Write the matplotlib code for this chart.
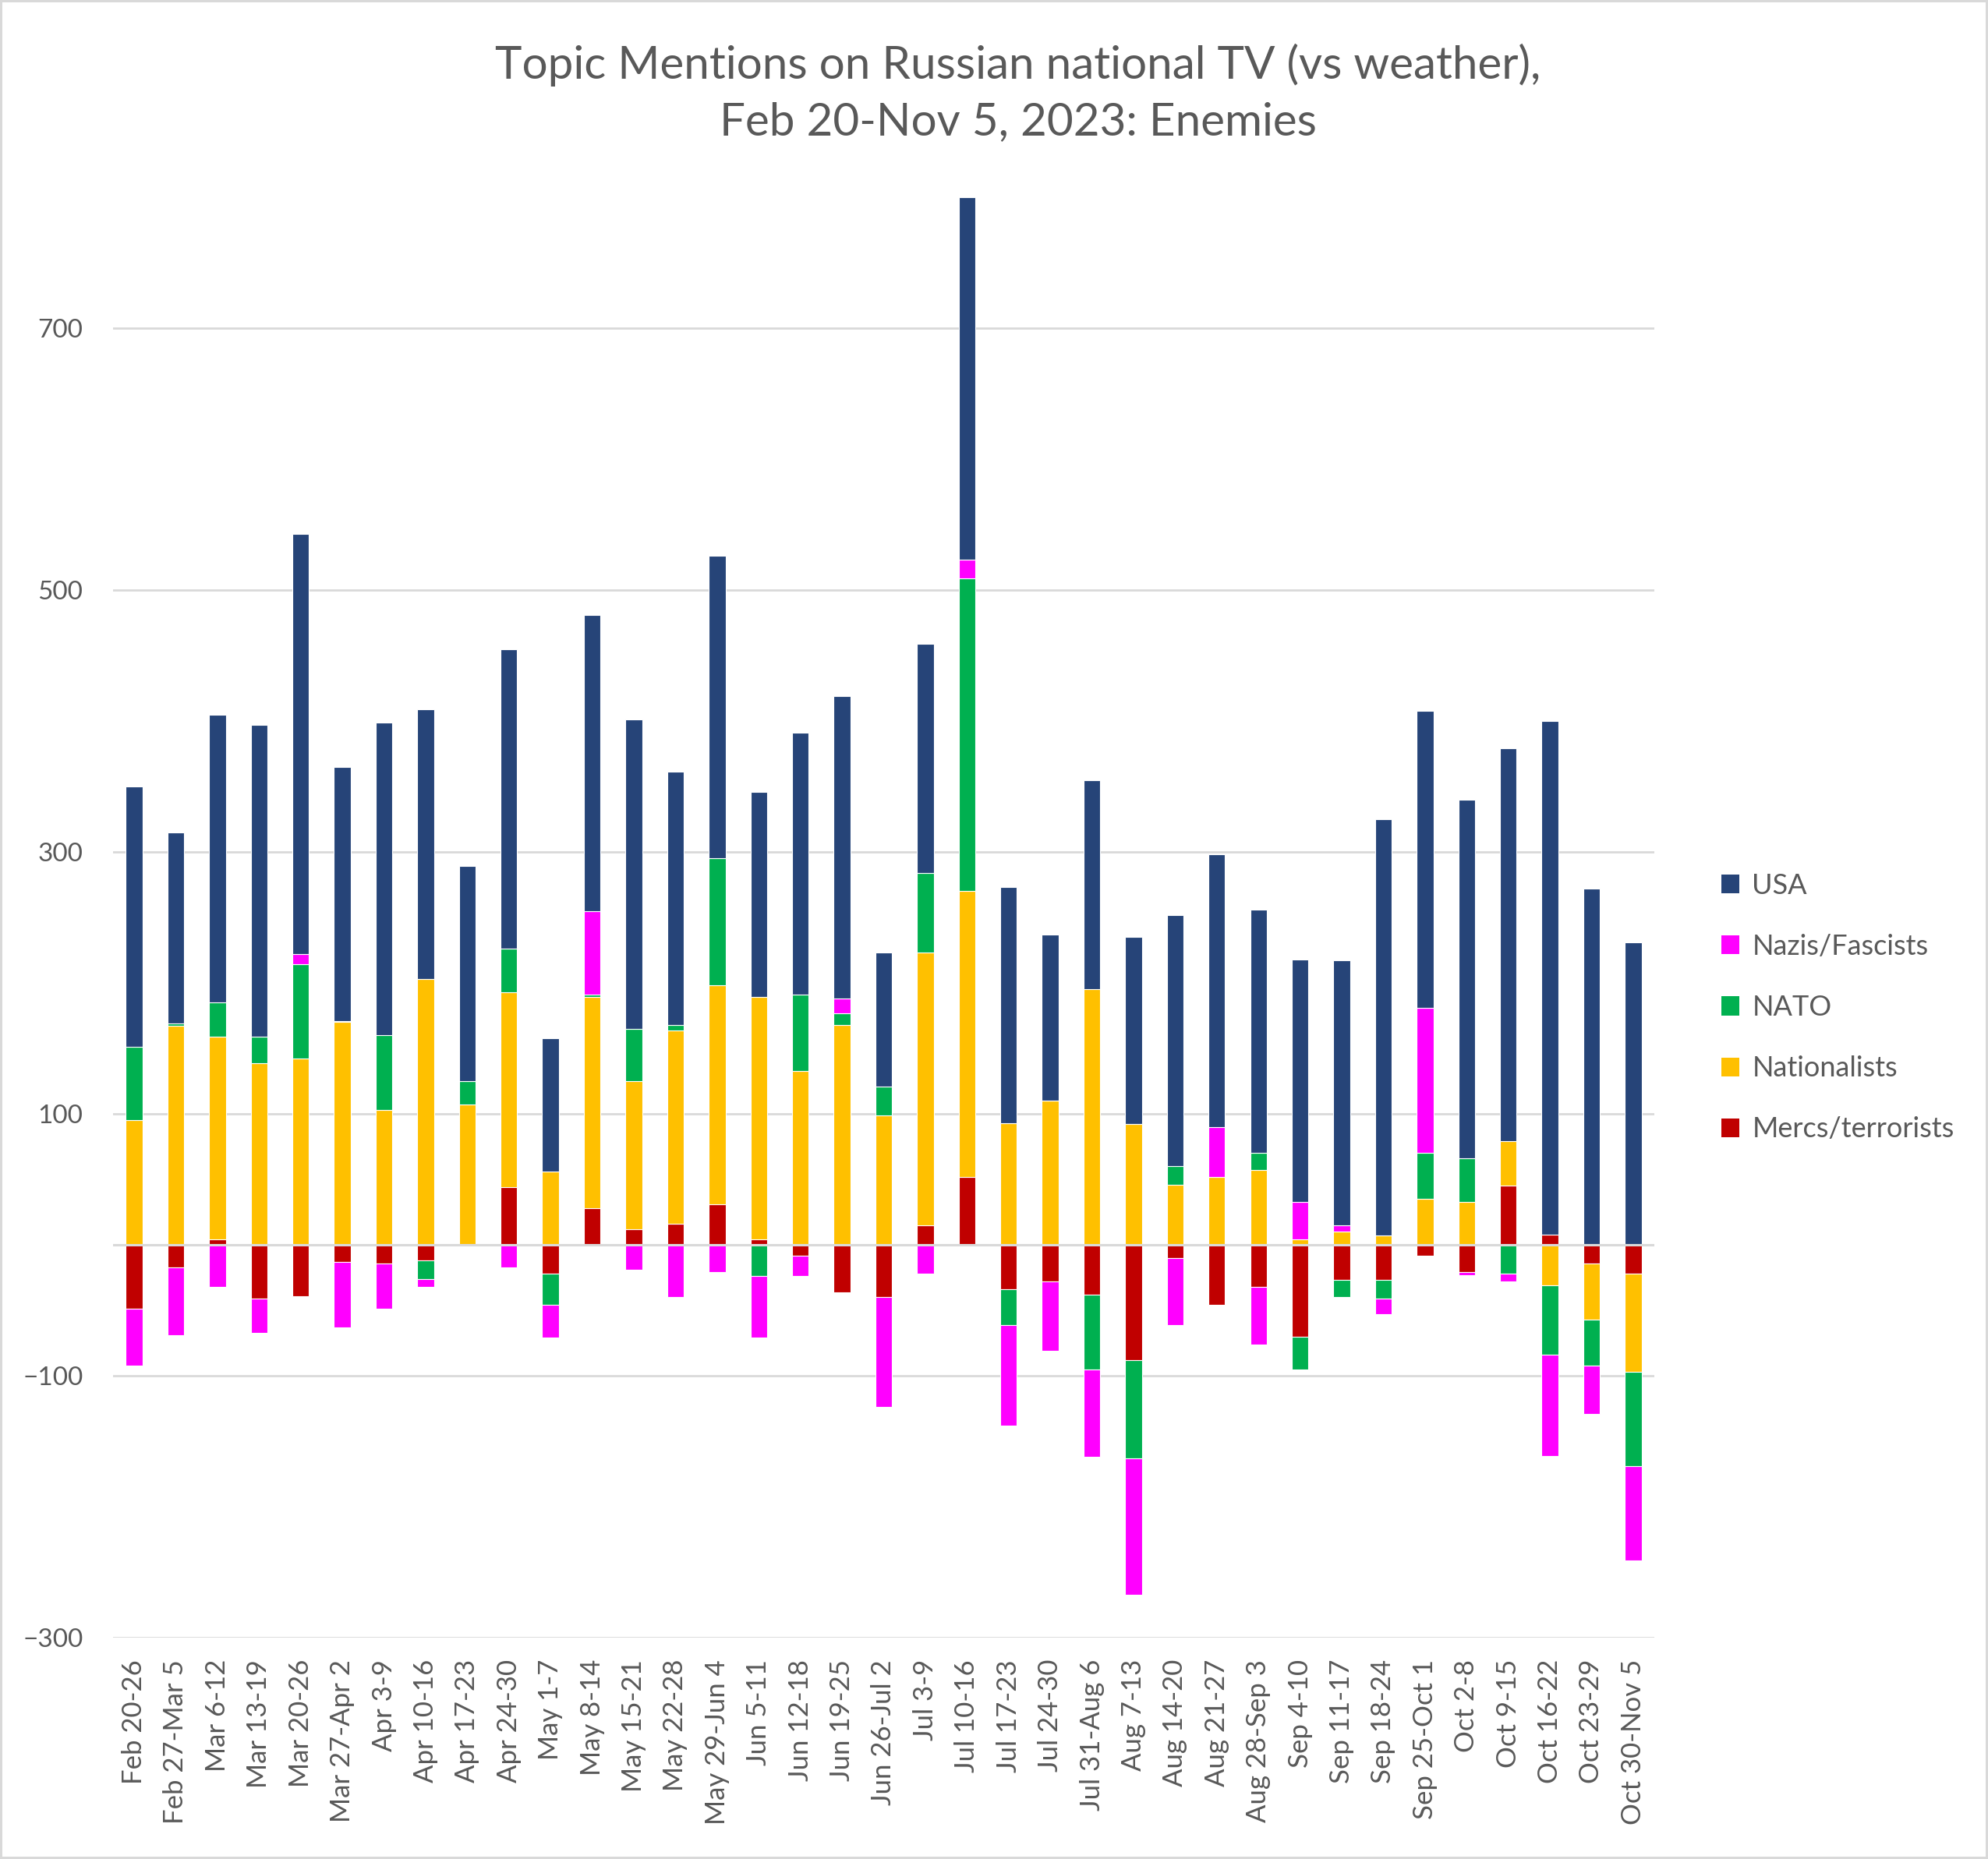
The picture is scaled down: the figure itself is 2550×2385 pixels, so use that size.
import numpy as np
import matplotlib.pyplot as plt
from matplotlib.patches import Patch

plt.rcParams['font.family'] = ['Lato', 'DejaVu Sans']

# Weekly mention counts (relative to weather)
weeks = ['Feb 20-26', 'Feb 27-Mar 5', 'Mar 6-12', 'Mar 13-19', 'Mar 20-26',
         'Mar 27-Apr 2', 'Apr 3-9', 'Apr 10-16', 'Apr 17-23', 'Apr 24-30',
         'May 1-7', 'May 8-14', 'May 15-21', 'May 22-28', 'May 29-Jun 4',
         'Jun 5-11', 'Jun 12-18', 'Jun 19-25', 'Jun 26-Jul 2', 'Jul 3-9',
         'Jul 10-16', 'Jul 17-23', 'Jul 24-30', 'Jul 31-Aug 6', 'Aug 7-13',
         'Aug 14-20', 'Aug 21-27', 'Aug 28-Sep 3', 'Sep 4-10', 'Sep 11-17',
         'Sep 18-24', 'Sep 25-Oct 1', 'Oct 2-8', 'Oct 9-15', 'Oct 16-22',
         'Oct 23-29', 'Oct 30-Nov 5']

mercs = [-49, -17, 4, -41, -39, -13, -14, -12, 0, 44, -22, 28, 12, 16, 31,
         4, -8, -36, -40, 15, 52, -34, -28, -38, -88, -10, -46, -32, -70,
         -27, -27, -8, -21, 45, 8, -14, -22]
nationalists = [95, 167, 155, 139, 142, 170, 103, 203, 107, 149, 56, 161, 113,
                148, 167, 185, 133, 168, 99, 208, 218, 93, 110, 195, 92, 46,
                52, 57, 4, 10, 7, 35, 33, 34, -31, -43, -75]
nato = [56, 2, 26, 20, 72, 1, 57, -14, 18, 33, -24, 2, 40, 4, 97, -24, 58, 9,
        22, 61, 239, -27, 0, -57, -75, 14, 0, 13, -25, -13, -14, 35, 33, -22,
        -53, -35, -72]
nazis = [-43, -52, -32, -26, 8, -50, -35, -6, 0, -17, -25, 64, -19, -40, -21,
         -47, -16, 11, -84, -22, 14, -77, -53, -67, -104, -51, 38, -44, 29, 5,
         -12, 111, -2, -6, -77, -37, -72]
usa = [199, 146, 220, 238, 321, 194, 239, 206, 164, 229, 102, 226, 236, 193,
       231, 157, 200, 231, 102, 175, 277, 180, 127, 160, 143, 192, 208, 186,
       185, 202, 318, 227, 274, 300, 392, 272, 231]

series = [('Mercs/terrorists', mercs, '#C00000'),
          ('Nationalists', nationalists, '#FFC000'),
          ('NATO', nato, '#00B050'),
          ('Nazis/Fascists', nazis, '#FF00FF'),
          ('USA', usa, '#264478')]

grey = '#595959'

fig = plt.figure(figsize=(25.5, 23.85), dpi=100, edgecolor='#D9D9D9', linewidth=4)
ax = fig.add_axes([0.057, 0.119, 0.775, 0.775])

x = np.arange(len(weeks))
pos_bottom = np.zeros(len(weeks))
neg_bottom = np.zeros(len(weeks))
for name, vals, col in series:
    v = np.array(vals, dtype=float)
    bottom = np.where(v >= 0, pos_bottom, neg_bottom)
    ax.bar(x, v, 0.4, bottom=bottom, color=col, edgecolor='white',
           linewidth=0.8, zorder=2)
    pos_bottom += np.clip(v, 0, None)
    neg_bottom += np.clip(v, None, 0)

ax.set_ylim(-300, 800)
ax.set_xlim(-0.5, len(weeks) - 0.5)
ax.set_yticks([-300, -100, 100, 300, 500, 700])
ax.yaxis.grid(True, color='#D9D9D9', linewidth=2)
ax.set_axisbelow(True)
ax.axhline(0, color='#D9D9D9', linewidth=2.2, zorder=3)
for s in ax.spines.values():
    s.set_visible(False)

ax.set_xticks(x)
ax.set_xticklabels(weeks, rotation=90, fontsize=25, color=grey)
ax.tick_params(axis='x', length=0, pad=20)
ax.tick_params(axis='y', length=0, pad=28, labelsize=24, labelcolor=grey)

fig.text(0.512, 0.950, 'Topic Mentions on Russian national TV (vs weather),\nFeb 20-Nov 5, 2023: Enemies',
         ha='center', va='center', fontsize=42, color=grey, linespacing=1.45)

handles = [Patch(facecolor=col, label=name) for name, vals, col in series[::-1]]
fig.legend(handles=handles, loc='center left', bbox_to_anchor=(0.853, 0.458),
           frameon=False, fontsize=26, labelcolor=grey, handlelength=0.65,
           handleheight=0.65, handletextpad=0.45, labelspacing=1.25)

fig.savefig('out.png', dpi=100)
